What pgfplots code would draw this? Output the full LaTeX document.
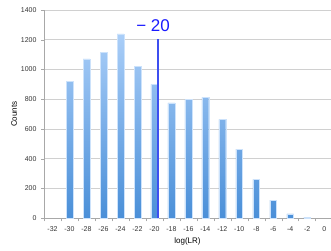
\documentclass[border=0pt]{standalone}
\usepackage{pgfplots}
\pgfplotsset{compat=1.18}
\usepackage{fontspec}
\setmainfont{Liberation Sans}
\definecolor{bartop}{HTML}{AACEF8}
\definecolor{barbot}{HTML}{4A8FD8}
\definecolor{gridc}{HTML}{D0D0D0}
\definecolor{axc}{HTML}{A8A8A8}
\definecolor{vlinec}{HTML}{3D4FF0}
\definecolor{labc}{HTML}{1A1AFF}
\begin{document}
\begin{tikzpicture}
\useasboundingbox (0,0) rectangle (331pt,250pt);
\begin{axis}[
  at={(44pt,31.7pt)}, anchor=south west,
  scale only axis, width=287pt, height=208.3pt,
  xmin=-33, xmax=0.8, ymin=0, ymax=1400,
  xtick={-32,-30,...,0},
  minor xtick={-33,-31,...,1},
  ytick={0,200,...,1400},
  ymajorgrids, grid style={gridc, line width=0.6pt},
  axis x line*=bottom, axis y line*=left,
  axis line style={axc, line width=0.6pt},
  x axis line style={-}, y axis line style={-},
  major x tick style={draw=none},
  minor x tick style={axc, line width=0.5pt},
  ytick style={axc, line width=0.5pt},
  tick align=outside, major tick length=3pt, minor tick length=3pt,
  tick label style={font=\fontsize{7}{8}\selectfont, text=black!80},
  /pgf/number format/assume math mode=true,
  /pgf/number format/1000 sep={},
  xticklabel style={yshift=-2pt},
  yticklabel style={xshift=-1pt},
  xlabel={log(LR)}, ylabel={Counts},
  label style={font=\fontsize{8}{9}\selectfont},
  xlabel style={yshift=1pt},
  ylabel style={yshift=-3pt},
  clip=false,
]
\addplot[ybar, bar width=6.8pt, draw=bartop!60!white, line width=0.4pt, top color=bartop, bottom color=barbot]
coordinates {(-30,920) (-28,1072) (-26,1115) (-24,1240) (-22,1020) (-20,900)
(-18,775) (-16,800) (-14,812) (-12,665) (-10,465) (-8,262) (-6,123) (-4,29) (-2,6)};
\addplot[sharp plot, no marks, draw=vlinec, color=vlinec, line width=1.1pt, forget plot] coordinates {(-19.58,0) (-19.58,1205)};
\node[text=labc, font=\fontsize{17}{19}\selectfont] at (axis cs:-20.15,1294) {− 20};
\end{axis}
\end{tikzpicture}
\end{document}
